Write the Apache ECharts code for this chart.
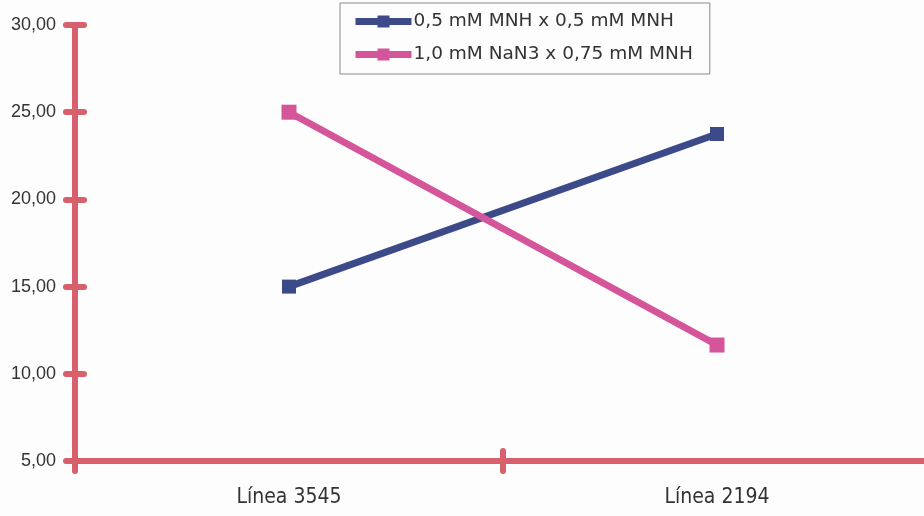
<!DOCTYPE html>
<html><head><meta charset="utf-8">
<script src="https://cdn.jsdelivr.net/npm/echarts@6/dist/echarts.min.js"></script>
<style>html,body{margin:0;padding:0;background:#fdfdfd;overflow:hidden}#c{width:931px;height:516px}</style>
</head><body><div id="c"></div>
<script>
const categories = ['Línea 3545', 'Línea 2194'];
const seriesNames = ['0,5 mM MNH x 0,5 mM MNH', '1,0 mM NaN3 x 0,75 mM MNH'];
const blueValues = [15.0, 23.75];
const pinkValues = [25.0, 11.65];
const yTicks = [5, 10, 15, 20, 25, 30];

const axisColor = '#d8606c';
const chart = echarts.init(document.getElementById('c'));
const yBase = {
  type: 'value', min: 5, max: 30, interval: 5,
  axisLine: {show: true, lineStyle: {color: axisColor, width: 6, cap: 'round'}},
  splitLine: {show: false}
};
chart.setOption({
  backgroundColor: '#fdfdfd',
  animation: false,
  grid: {left: 75, top: 25, right: 0, bottom: 55},
  legend: {
    top: 3, left: 340,
    orient: 'vertical',
    itemGap: 14,
    itemWidth: 56, itemHeight: 15,
    padding: [9, 17, 10, 12],
    borderColor: '#8a8a8a', borderWidth: 1,
    backgroundColor: '#fdfdfd',
    lineStyle: {width: 7},
    textStyle: {fontFamily: "'DejaVu Sans', sans-serif", fontSize: 18.5, color: '#333', padding: [0,0,0,-3]},
    data: seriesNames
  },
  xAxis: [{
    type: 'category', data: categories,
    boundaryGap: true,
    axisLine: {lineStyle: {color: axisColor, width: 6}},
    axisTick: {show: true, length: 10, lineStyle: {color: axisColor, width: 6, cap: 'round'}},
    axisLabel: {fontFamily: "'DejaVu Sans Condensed', sans-serif", fontSize: 21, color: '#333', margin: 26}
  }, {
    type: 'category', data: categories, position: 'bottom',
    boundaryGap: true,
    axisLine: {show: false},
    axisTick: {show: true, inside: true, length: 10, lineStyle: {color: axisColor, width: 6, cap: 'round'}},
    axisLabel: {show: false}
  }],
  yAxis: [Object.assign({}, yBase, {
    axisTick: {show: true, length: 9, lineStyle: {color: axisColor, width: 6, cap: 'round'}},
    axisLabel: {
      fontFamily: "'Liberation Sans', Arial, sans-serif", fontSize: 18, color: '#333', margin: 19,
      formatter: v => yTicks.includes(v) ? v.toFixed(2).replace('.', ',') : ''
    }
  }), Object.assign({}, yBase, {
    position: 'left',
    axisTick: {show: true, inside: true, length: 9, lineStyle: {color: axisColor, width: 6, cap: 'round'}},
    axisLabel: {show: false}
  })],
  series: [{
    name: seriesNames[0], type: 'line', data: blueValues,
    symbol: 'rect', symbolSize: 14,
    lineStyle: {color: '#3d4a8a', width: 7},
    itemStyle: {color: '#3d4a8a'}
  }, {
    name: seriesNames[1], type: 'line', data: pinkValues,
    symbol: 'rect', symbolSize: 15,
    lineStyle: {color: '#d5559a', width: 7},
    itemStyle: {color: '#d5559a'}
  }]
});
</script></body></html>
